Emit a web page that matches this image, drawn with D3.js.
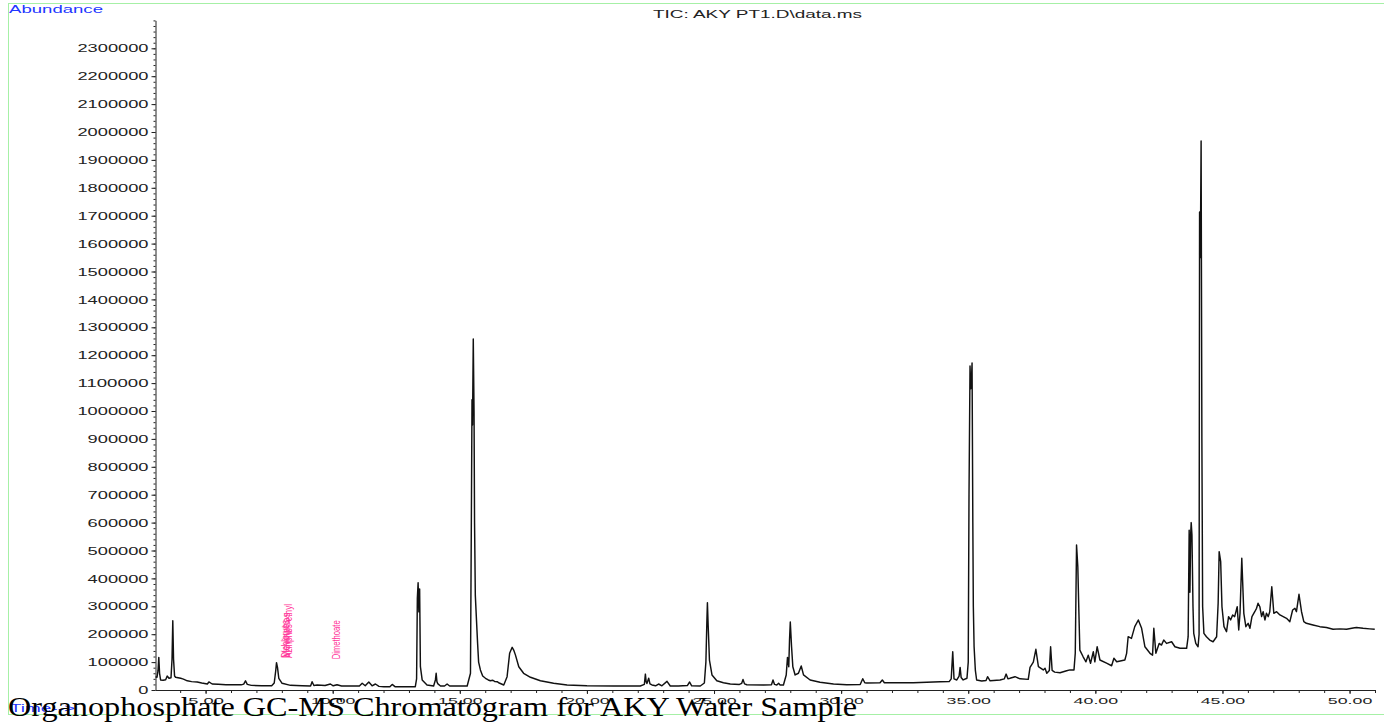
<!DOCTYPE html>
<html><head><meta charset="utf-8">
<script src="https://cdn.jsdelivr.net/npm/d3@7"></script>
<style>body{margin:0;background:#fff;overflow:hidden} svg{display:block}</style>
</head><body>
<svg id="c" width="1384" height="726"></svg>
<script>
// Retention time (min) and total ion current abundance
const rtMin = [3.03,3.09,3.13,3.16,3.19,3.23,3.33,3.43,3.49,3.56,3.64,3.68,3.71,3.74,3.78,3.82,3.92,4.02,4.10,4.15,4.28,4.45,4.67,4.85,5.07,5.13,5.26,5.50,5.80,6.10,6.40,6.50,6.57,6.64,6.80,7.20,7.60,7.70,7.76,7.79,7.83,7.88,8.01,8.34,8.80,9.13,9.19,9.26,9.39,9.70,9.91,10.02,10.17,10.35,10.70,11.05,11.16,11.28,11.42,11.55,11.68,11.82,12.01,12.25,12.34,12.45,12.80,13.25,13.30,13.33,13.36,13.39,13.42,13.45,13.52,13.71,13.97,14.04,14.07,14.10,14.13,14.24,14.40,14.50,14.60,14.76,15.29,15.42,15.46,15.48,15.50,15.53,15.56,15.58,15.61,15.65,15.70,15.74,15.81,15.90,16.01,16.12,16.20,16.30,16.38,16.47,16.55,16.73,16.86,16.96,17.06,17.12,17.19,17.32,17.51,17.78,18.17,18.69,19.22,20.00,21.05,22.10,22.26,22.30,22.33,22.36,22.43,22.48,22.56,22.70,22.82,22.95,23.15,23.28,23.60,23.95,24.04,24.12,24.46,24.62,24.68,24.72,24.74,24.77,24.82,24.92,25.11,25.37,25.64,26.00,26.09,26.14,26.20,26.29,26.95,27.26,27.32,27.38,27.47,27.54,27.60,27.73,27.84,27.89,27.94,27.97,28.00,28.05,28.10,28.19,28.32,28.43,28.52,28.78,29.17,29.70,30.22,30.75,30.85,30.93,31.01,31.53,31.62,31.70,31.80,32.84,33.89,34.25,34.33,34.39,34.44,34.55,34.64,34.68,34.72,34.80,34.95,35.00,35.03,35.07,35.10,35.13,35.15,35.18,35.20,35.23,35.28,35.33,35.53,35.70,35.76,35.86,36.25,36.42,36.49,36.56,36.64,36.84,37.04,37.36,37.43,37.56,37.66,37.76,37.95,38.02,38.09,38.19,38.24,38.30,38.40,38.61,38.87,39.00,39.16,39.21,39.26,39.31,39.35,39.39,39.52,39.63,39.72,39.81,39.92,39.98,40.07,40.18,40.44,40.64,40.73,40.84,41.16,41.23,41.29,41.42,41.55,41.69,41.82,41.95,42.15,42.25,42.30,42.38,42.51,42.60,42.69,42.80,43.00,43.13,43.33,43.59,43.65,43.69,43.72,43.75,43.77,43.80,43.84,43.87,43.95,44.04,44.08,44.10,44.13,44.16,44.19,44.22,44.27,44.37,44.50,44.63,44.77,44.83,44.87,44.93,44.98,45.06,45.16,45.24,45.32,45.40,45.48,45.58,45.64,45.69,45.76,45.84,45.92,46.01,46.08,46.16,46.27,46.34,46.40,46.47,46.54,46.60,46.67,46.73,46.80,46.86,46.94,47.02,47.13,47.26,47.39,47.52,47.65,47.76,47.85,47.91,48.01,48.11,48.20,48.30,48.56,48.83,49.09,49.35,49.62,49.88,50.14,50.27,50.53,50.79,50.99];
const tic = [47000,46000,70000,117000,60000,36000,35000,37000,50000,42000,44000,110000,248000,110000,50000,45500,44000,42000,40000,38000,33000,30000,28700,25000,21500,28700,21500,20500,19000,19000,18500,21000,33000,20000,16500,15400,15400,25000,70000,98000,80000,42000,24000,16700,15000,14300,29700,16000,18000,16000,21500,15000,19000,14500,14300,14000,24000,15000,28700,15000,21500,13000,11800,12000,20000,12000,11800,11800,40000,330000,384600,280000,362000,83500,36000,18000,14300,36000,60000,30000,23000,14300,14300,21500,14300,14300,14300,60000,700000,1040000,950000,1258000,1000000,600000,340000,262000,167000,100000,72000,50000,42000,36000,33000,35000,30000,29700,25000,18000,47700,131500,153000,143000,125000,83500,60000,45500,33000,24000,18000,15500,14300,14300,20000,57000,30000,23000,42000,22000,18000,15000,21500,15000,31000,14300,14300,16000,28700,15000,14300,25000,100000,250000,313000,230000,107500,54000,33000,26000,21500,20000,24000,38000,22000,19000,18000,19000,36000,20000,18000,24000,18000,18000,54000,117000,83500,180000,243700,155000,83500,54000,60000,86000,54000,36000,27500,21500,19000,20000,40500,26000,25000,26000,35800,26000,26000,26000,29700,30000,40000,137000,40000,36000,50000,81000,45000,36000,42000,100000,700000,1161000,1080000,1120000,1172000,600000,300000,155000,70000,35800,32000,34000,47700,33000,35800,40000,57000,40000,42000,47700,40000,38000,81000,100000,146000,83500,72000,78000,60000,70000,155000,70000,64000,62000,69000,72000,72000,132000,520000,442000,287000,143000,119000,101000,125000,96000,137000,101000,155000,107500,96000,87000,113600,101000,107500,131500,191000,185000,227000,251000,221000,155000,131500,125000,221000,131500,167000,161000,179000,167000,173000,155000,149500,149500,191000,573000,350000,560000,600000,555000,300000,203000,167000,155000,200000,1713000,1550000,1968000,900000,298500,203000,191000,179000,173000,191000,310700,496000,460000,298500,227000,209000,263000,251000,269000,263000,298500,215000,275000,472000,275000,227000,239000,221000,263000,280600,292800,310700,298500,263000,280600,251000,275000,263000,280600,370000,275000,280600,269000,263000,257000,245000,286700,292800,280600,343000,280600,245000,239000,233000,227000,224000,217500,219000,217500,222000,224000,221000,219000,217500];

const yTickValues = d3.range(0, 2300001, 100000);
const yMinorValues = d3.range(0, 2400001, 20000);
const xTickValues = [5, 10, 15, 20, 25, 30, 35, 40, 45, 50];
const xMinorValues = d3.range(4, 52, 1);
const compoundNames = ["Dichlorvos", "Mevinphos", "Azinphos-ethyl", "Dimethoate"];
const compoundTimes = [8.27, 8.33, 8.38, 10.30];
const compoundLabelLen = [38, 45, 54, 39];
const compoundBase = [115000, 115000, 115000, 110000];
const chartTitle = "TIC: AKY PT1.D\\data.ms";
const caption = "Organophosphate GC-MS Chromatogram for AKY Water Sample";

const svg = d3.select("#c");
const x = d3.scaleLinear().domain([3.03, 51.0]).range([155.5, 1375]);
const y = d3.scaleLinear().domain([0, 2400000]).range([690, 20.4]);

// outer frame
svg.append("rect").attr("x", 8.5).attr("y", 3.5).attr("width", 1380).attr("height", 711)
  .attr("fill", "none").attr("stroke", "#a6f0a6").attr("stroke-width", 1);

const sans = "'Liberation Sans', Arial, Helvetica, sans-serif";

// y axis
const gy = svg.append("g").attr("transform", "translate(155.5,0)");
gy.call(d3.axisLeft(y).tickValues(yMinorValues).tickSize(2).tickSizeOuter(0).tickFormat(""));
gy.selectAll("path,line").attr("stroke", "#222");
const gy2 = svg.append("g").attr("transform", "translate(155.5,0)");
gy2.call(d3.axisLeft(y).tickValues(yTickValues).tickSize(4).tickSizeOuter(0).tickFormat(d3.format("d")));
gy2.select(".domain").remove();
gy2.selectAll("line").attr("stroke", "#222");
gy2.selectAll("text").each(function(d) {
  const s = d3.format("d")(d);
  const len = s.length * 10.15;
  d3.select(this).attr("text-anchor", "start").attr("x", -7 - len)
    .attr("textLength", len).attr("lengthAdjust", "spacingAndGlyphs")
    .attr("font-family", sans).attr("font-size", "11.5px").attr("fill", "#222");
});

// x axis
const gx = svg.append("g").attr("transform", "translate(0,690)");
gx.call(d3.axisBottom(x).tickValues(xMinorValues).tickSize(3).tickSizeOuter(0).tickFormat(""));
gx.selectAll("path,line").attr("stroke", "#222");
const gx2 = svg.append("g").attr("transform", "translate(0,690)");
gx2.call(d3.axisBottom(x).tickValues(xTickValues).tickSize(4).tickSizeOuter(0).tickFormat(d3.format(".2f")));
gx2.select(".domain").remove();
gx2.selectAll("line").attr("stroke", "#222");
gx2.selectAll("text").each(function(d) {
  const s = d3.format(".2f")(d);
  const len = s.length * 8.9;
  d3.select(this).attr("text-anchor", "start").attr("x", -len / 2).attr("y", 7).attr("dy", "0.71em")
    .attr("textLength", len).attr("lengthAdjust", "spacingAndGlyphs")
    .attr("font-family", sans).attr("font-size", "9.5px").attr("fill", "#222");
});

// trace
const pts = rtMin.map((t, i) => [t, tic[i]]);
svg.append("path").datum(pts)
  .attr("d", d3.line().x(d => x(d[0])).y(d => y(d[1])))
  .attr("fill", "none").attr("stroke", "#111").attr("stroke-width", 1.45)
  .attr("stroke-linejoin", "round");

// compound annotations
compoundNames.forEach((name, i) => {
  const px = x(compoundTimes[i]), py = y(compoundBase[i]);
  svg.append("text").attr("transform", `translate(${px},${py}) rotate(-90)`)
    .attr("textLength", compoundLabelLen[i]).attr("lengthAdjust", "spacingAndGlyphs")
    .attr("font-family", sans).attr("font-size", "11px").attr("fill", "#ff3399")
    .text(name);
});

// title & axis names
svg.append("text").attr("x", 653).attr("y", 18).attr("textLength", 209).attr("lengthAdjust", "spacingAndGlyphs")
  .attr("font-family", sans).attr("font-size", "10px").attr("fill", "#222").text(chartTitle);
svg.append("text").attr("x", 9).attr("y", 13).attr("textLength", 94).attr("lengthAdjust", "spacingAndGlyphs")
  .attr("font-family", sans).attr("font-size", "10.5px").attr("fill", "#2236ff").text("Abundance");
svg.append("text").attr("x", 10).attr("y", 712).attr("textLength", 65).attr("lengthAdjust", "spacingAndGlyphs")
  .attr("font-family", sans).attr("font-size", "10.5px").attr("fill", "#2236ff").text("Time-->");

// caption
svg.append("text").attr("x", 8).attr("y", 716).attr("textLength", 849).attr("lengthAdjust", "spacingAndGlyphs")
  .attr("font-family", "'Liberation Serif', 'Times New Roman', serif").attr("font-size", "28px").attr("fill", "#000")
  .text(caption);
</script>
</body></html>
